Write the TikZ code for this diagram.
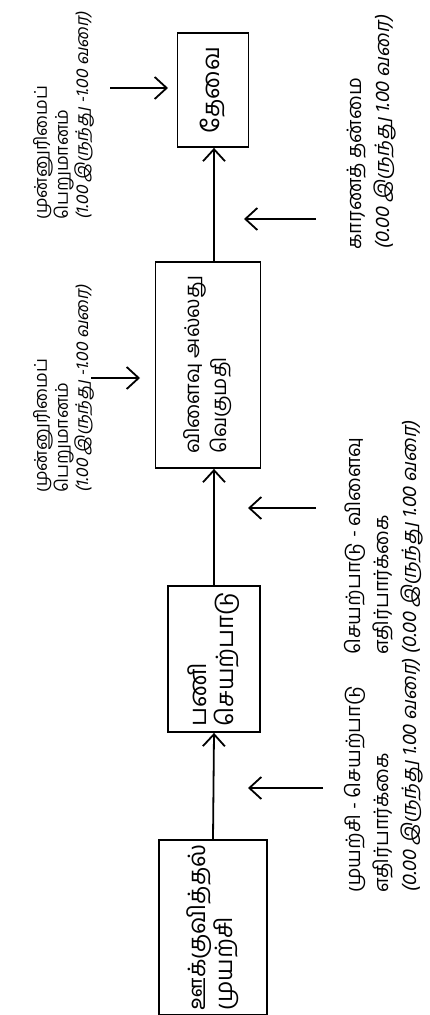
\documentclass[tikz,border=0pt]{standalone}
\usepackage{fontspec}
\setmainfont[Script=Tamil]{Hind Madurai}
\newfontfamily\slnt[Script=Tamil,FakeSlant=0.2]{Hind Madurai}
\usetikzlibrary{arrows.meta, positioning}

\begin{document}
\begin{tikzpicture}[
  x=0.5pt, y=-0.5pt,
  box/.style={draw, line width=0.9pt, rotate=90, align=left, inner sep=2pt,
    font=\fontsize{12}{13.5}\selectfont},
  val/.style={rotate=90, anchor=west, align=left, inner sep=0pt,
    font=\fontsize{8.8}{10.5}\selectfont},
  expect/.style={rotate=90, anchor=west, align=left, inner sep=0pt,
    font=\fontsize{10}{14}\selectfont},
  flow/.style={line width=0.9pt, -{Straight Barb[length=6pt,width=11pt]}}
]
\useasboundingbox (0,0) rectangle (429,1015);

\node[box, minimum width=83.5pt, minimum height=54pt] (effort) at (213,927.5) {ஊக்குவித்தல்\\முயற்சி};
\node[box, minimum width=73pt, minimum height=46pt] (perf) at (214,659) {பணி\\செயற்பாடு};
\node[box, minimum width=103pt, minimum height=52.5pt, font=\fontsize{10.2}{13.5}\selectfont] (reward) at (208,365) {விளைவு அல்லது\\வெகுமதி};
\node[box, minimum width=57pt, minimum height=35.5pt] (need) at (213,90) {தேவை};

\draw[flow] (effort.east) -- (perf.west);
\draw[flow] (perf.east) -- (perf.east |- reward.west);
\draw[flow] (perf.east |- reward.east) -- (perf.east |- need.west);

\node[val] (val1) at (64,220) {முன்னுரிமைப்\\பெறுமானம்\\{\slnt (1.00 இருந்து -1.00 வரை)}};
\node[val] (val2) at (64,493) {முன்னுரிமைப்\\பெறுமானம்\\{\slnt (1.00 இருந்து -1.00 வரை)}};
\node[expect] (instr) at (372,250) {காரணத் தன்மை\\{\slnt (0.00 இருந்து 1.00 வரை)}};
\node[expect] (exp2) at (384,655) {செயற்பாடு - விளைவு\\எதிர்பார்க்கை\\{\slnt (0.00 இருந்து 1.00 வரை)}};
\node[expect] (exp1) at (384,893) {முயற்சி - செயற்பாடு\\எதிர்பார்க்கை\\{\slnt (0.00 இருந்து 1.00 வரை)}};

\coordinate (v1a) at (110,88);
\coordinate (v1b) at (168,88);
\coordinate (v2a) at (91,378);
\coordinate (v2b) at (140,378);
\coordinate (e0a) at (316,219);
\coordinate (e0b) at (244,219);
\coordinate (e2a) at (316,508);
\coordinate (e2b) at (248,508);
\coordinate (e1a) at (323,788);
\coordinate (e1b) at (248,788);

\draw[flow] (v1a) -- (v1b);
\draw[flow] (v2a) -- (v2b);
\draw[flow] (e0a) -- (e0b);
\draw[flow] (e2a) -- (e2b);
\draw[flow] (e1a) -- (e1b);
\end{tikzpicture}
\end{document}
